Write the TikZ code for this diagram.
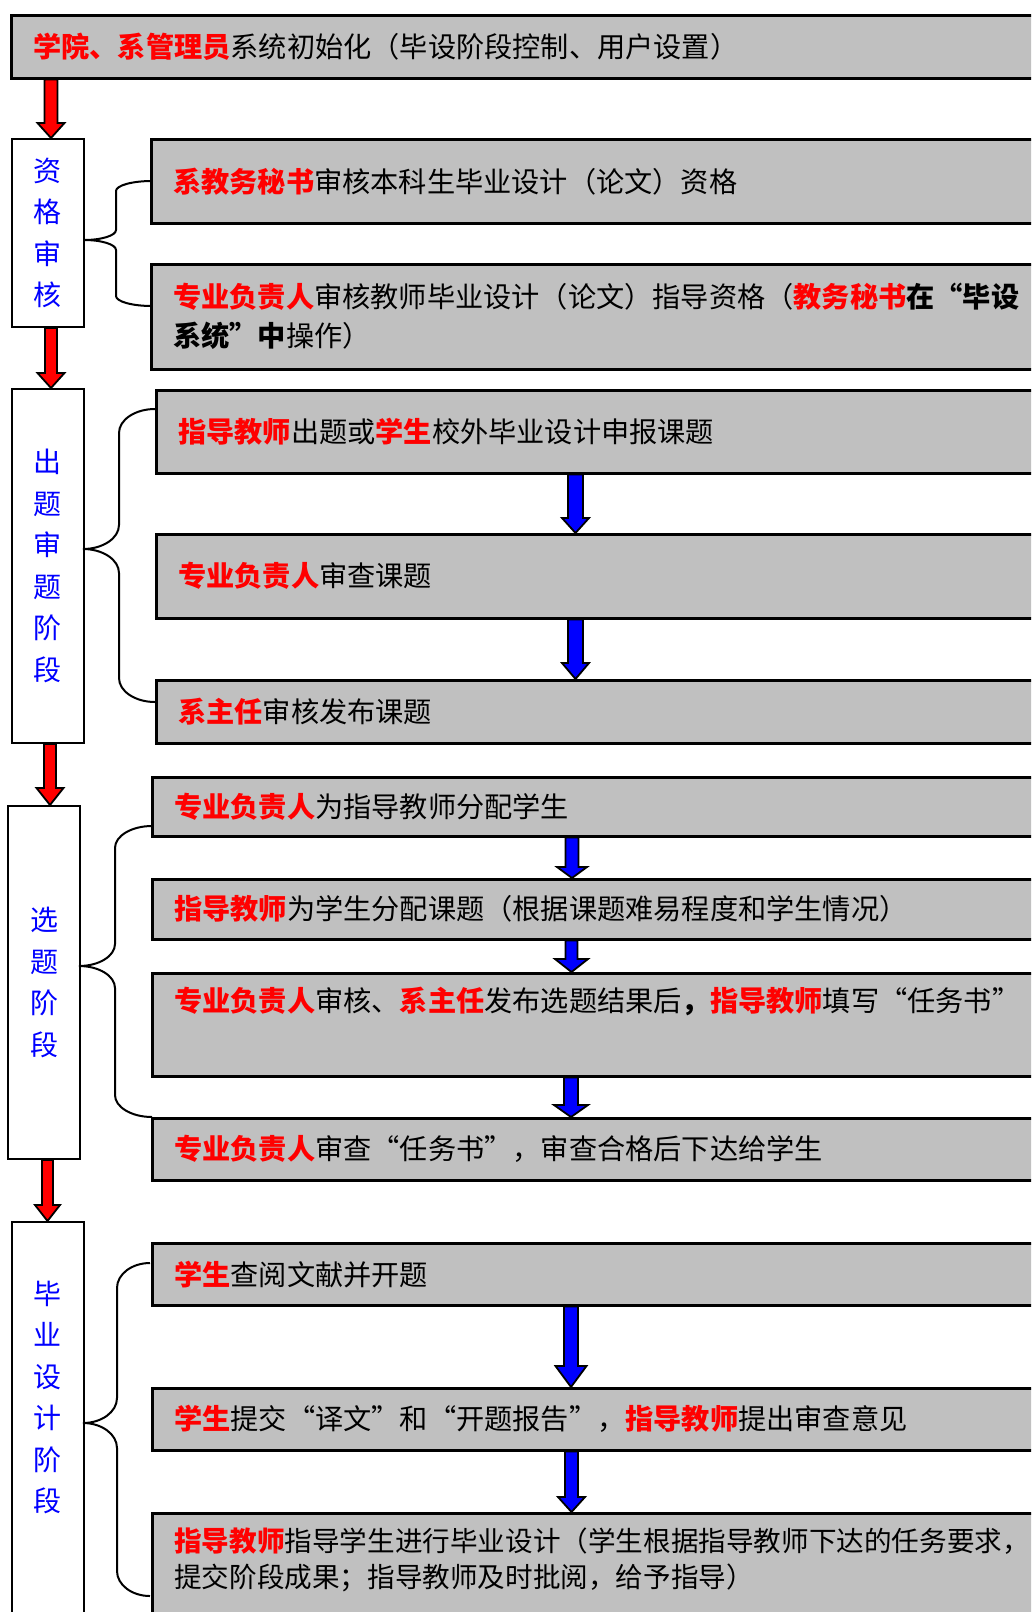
\documentclass[tikz,border=0pt]{standalone}
\usepackage{fontspec}
\newfontfamily\cjk{Noto Sans CJK SC}
\definecolor{boxgray}{HTML}{C0C0C0}
\definecolor{rd}{HTML}{FF0000}
\definecolor{bl}{HTML}{0000FF}
\newcommand\rt[1]{{\bfseries\color{rd}#1}}
\newcommand\bt[1]{{\bfseries #1}}
\newcommand\maintext{\cjk\fontsize{28.2pt}{38pt}\selectfont}
\newcommand\stagetext{\cjk\fontsize{28pt}{41.5pt}\selectfont}
% block arrow: fill, from node, to node, x centre, half shaft, half head, head length
\newcommand\blockarrow[7]{%
  \draw[arrowline, fill=#1] let \p1=(#2.south), \p2=(#3.north) in
    (#4pt-#5pt,\y1) -- (#4pt+#5pt,\y1) -- (#4pt+#5pt,\y2+#7pt) -- (#4pt+#6pt,\y2+#7pt)
    -- (#4pt,\y2) -- (#4pt-#6pt,\y2+#7pt) -- (#4pt-#5pt,\y2+#7pt) -- cycle;}
% brace: x right, x left, x mid, y top, y mid, y bottom, radius
\newcommand\bracepath[7]{%
  \draw[braceline] (#1,#4) .. controls ({#1-0.552*(#1-#2)},#4) and (#2,{#4+0.448*#7}) .. (#2,{#4+#7})
    -- (#2,{#5-#7}) .. controls (#2,{#5-0.448*#7}) and ({#3+0.552*(#2-#3)},#5) .. (#3,#5)
    .. controls ({#3+0.552*(#2-#3)},#5) and (#2,{#5+0.448*#7}) .. (#2,{#5+#7})
    -- (#2,{#6-#7}) .. controls (#2,{#6-0.448*#7}) and ({#1-0.552*(#1-#2)},#6) .. (#1,#6);}
\usetikzlibrary{calc}
\begin{document}
\begin{tikzpicture}[x=1pt,y=-1pt,
  mainbox/.style={draw=black, line width=2.5pt, fill=boxgray, anchor=north west,
    inner xsep=22pt, inner ysep=0pt, align=left, font=\maintext},
  stagebox/.style={draw=black, line width=2pt, fill=white, anchor=north west,
    minimum width=72pt, inner sep=0pt, align=center, text=bl, font=\stagetext},
  arrowline/.style={draw=black, line width=1.8pt, line join=miter},
  braceline/.style={draw=black, line width=2pt}]
\useasboundingbox (0,0) rectangle (1031,1612);
\clip (0,0) rectangle (1031,1612);
\fill[white] (0,0) rectangle (1031,1612);

% top
\node[mainbox, minimum height=63pt, text width=991pt] (init) at (10,14)
  {\rt{学院、系管理员}系统初始化（毕设阶段控制、用户设置）};

% stage 1
\node[stagebox, minimum height=188pt] (s1) at (11,138) {资\\格\\审\\核};
\node[mainbox, minimum height=84pt, text width=851pt, text depth=2pt] (q1) at (150,138)
  {\rt{系教务秘书}审核本科生毕业设计（论文）资格};
\node[mainbox, minimum height=105pt, text width=851pt] (q2) at (150,263)
  {\rt{专业负责人}审核教师毕业设计（论文）指导资格（\rt{教务秘书}\bt{在“毕设}\\[1pt]\bt{系统”中}操作）};

% stage 2
\node[stagebox, minimum height=354pt] (s2) at (11,388) {出\\题\\审\\题\\阶\\段};
\node[mainbox, minimum height=83pt, text width=846pt] (t1) at (155,389)
  {\rt{指导教师}出题或\rt{学生}校外毕业设计申报课题};
\node[mainbox, minimum height=84pt, text width=846pt] (t2) at (155,533)
  {\rt{专业负责人}审查课题};
\node[mainbox, minimum height=63pt, text width=846pt] (t3) at (155,679)
  {\rt{系主任}审核发布课题};

% stage 3
\node[stagebox, minimum height=353pt] (s3) at (7,805) {选\\题\\阶\\段};
\node[mainbox, minimum height=59pt, text width=850pt] (c1) at (151,776)
  {\rt{专业负责人}为指导教师分配学生};
\node[mainbox, minimum height=60pt, text width=850pt] (c2) at (151,878)
  {\rt{指导教师}为学生分配课题（根据课题难易程度和学生情况）};
\node[mainbox, minimum height=103pt, text width=850pt, text depth=50pt] (c3) at (151,972)
  {\rt{专业负责人}审核、\rt{系主任}发布选题结果后\bt{，}\rt{指导教师}填写“任务书”};
\node[mainbox, minimum height=62pt, text width=850pt] (c4) at (151,1117)
  {\rt{专业负责人}审查“任务书”，审查合格后下达给学生};

% stage 4
\node[stagebox, minimum height=399pt, text depth=50pt] (s4) at (11,1221) {毕\\业\\设\\计\\阶\\段};
\node[mainbox, minimum height=62pt, text width=850pt] (d1) at (151,1242)
  {\rt{学生}查阅文献并开题};
\node[mainbox, minimum height=62pt, text width=850pt] (d2) at (151,1387)
  {\rt{学生}提交“译文”和“开题报告”，\rt{指导教师}提出审查意见};
\node[mainbox, minimum height=108pt, text width=850pt, text depth=55pt,
  font=\cjk\fontsize{27.6pt}{38pt}\selectfont] (d3) at (151,1512)
  {\rt{指导教师}指导学生进行毕业设计（学生根据指导教师下达的任务要求，\\[-2pt]提交阶段成果；指导教师及时批阅，给予指导）};

% red arrows between stages
\blockarrow{rd}{init}{s1}{51}{6.5}{13.5}{15}
\blockarrow{rd}{s1}{s2}{51}{6}{13.5}{15}
\blockarrow{rd}{s2}{s3}{50}{6}{13.5}{17}
\blockarrow{rd}{s3}{s4}{47.5}{5.5}{12.5}{16}

% blue arrows
\blockarrow{bl}{t1}{t2}{575.5}{7.5}{13.5}{15}
\blockarrow{bl}{t2}{t3}{575.5}{7.5}{13.5}{16}
\blockarrow{bl}{c1}{c2}{572}{6.5}{15}{11}
\blockarrow{bl}{c2}{c3}{571.5}{6}{16.5}{13}
\blockarrow{bl}{c3}{c4}{571}{7}{17}{12}
\blockarrow{bl}{d1}{d2}{571}{7}{15.5}{21}
\blockarrow{bl}{d2}{d3}{571.5}{6.5}{13.5}{15}

% braces
\bracepath{152}{116}{84}{181}{240}{306}{10}
\bracepath{155}{119}{83}{409}{549}{702}{24}
\bracepath{152}{115}{79}{826}{966}{1117}{22}
\bracepath{150}{117}{83}{1263}{1423}{1596}{25}
\end{tikzpicture}
\end{document}
